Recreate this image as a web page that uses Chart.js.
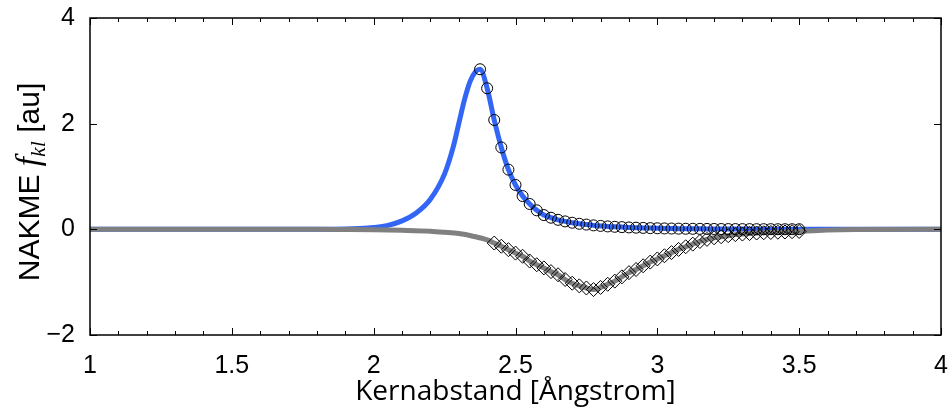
<!DOCTYPE html>
<html>
<head>
<meta charset="utf-8">
<script src="https://cdn.jsdelivr.net/npm/chart.js@4"></script>
<style>
  html, body { margin: 0; padding: 0; background: #fff; }
  #wrap { width: 949px; height: 409px; }
</style>
</head>
<body>
<div id="wrap"><canvas id="nakmeChart" width="949" height="409"></canvas></div>
<script>
// Abtastpunkte der Marker (Kreise und Rauten)
const sampleX = [2.375, 2.4, 2.425, 2.45, 2.475, 2.5, 2.525, 2.55, 2.575, 2.6,
  2.625, 2.65, 2.675, 2.7, 2.725, 2.75, 2.775, 2.8, 2.825, 2.85,
  2.875, 2.9, 2.925, 2.95, 2.975, 3.0, 3.025, 3.05, 3.075, 3.1,
  3.125, 3.15, 3.175, 3.2, 3.225, 3.25, 3.275, 3.3, 3.325, 3.35,
  3.375, 3.4, 3.425, 3.45, 3.475, 3.5];

// Kreise (liegen auf der blauen Kurve)
const circleY = [3.03, 2.67, 2.07, 1.55, 1.13, 0.84, 0.63, 0.48, 0.36, 0.27,
  0.22, 0.18, 0.15, 0.125, 0.105, 0.09, 0.075, 0.065, 0.055, 0.048,
  0.042, 0.036, 0.031, 0.027, 0.023, 0.02, 0.017, 0.015, 0.013, 0.011,
  0.01, 0.009, 0.008, 0.007, 0.006, 0.005, 0.005, 0.004, 0.004, 0.003,
  0.003, 0.003, 0.002, 0.002, 0.002, 0.002];

// Rauten (ab 2.425)
const diamondX = sampleX.slice(2);
const diamondY = [-0.26, -0.32, -0.385, -0.45, -0.51, -0.60, -0.67, -0.73, -0.80, -0.86,
  -0.95, -1.02, -1.07, -1.11, -1.14, -1.10, -1.04, -0.98, -0.90, -0.82,
  -0.76, -0.69, -0.62, -0.56, -0.50, -0.44, -0.38, -0.33, -0.28, -0.23,
  -0.19, -0.16, -0.14, -0.12, -0.10, -0.09, -0.08, -0.07, -0.065, -0.06,
  -0.055, -0.05, -0.045, -0.04];

// blaue Kurve: Anstieg vor dem Maximum und Auslauf
const blueRiseX = [1, 1.5, 1.8, 1.9, 1.95, 2.0, 2.05, 2.1, 2.15, 2.2, 2.25, 2.28, 2.3, 2.32, 2.34, 2.36];
const blueRiseY = [0, 0, 0, 0.005, 0.015, 0.035, 0.075, 0.16, 0.31, 0.57, 1.05, 1.55, 2.0, 2.45, 2.8, 2.99];
const blueTailX = [3.6, 4];
const blueTailY = [0, 0];

// graue Kurve
const grayPreX = [1, 1.5, 1.8, 1.9, 2.0, 2.1, 2.2, 2.25, 2.3, 2.35, 2.4];
const grayPreY = [0, 0, 0, -0.003, -0.008, -0.018, -0.035, -0.055, -0.08, -0.13, -0.2];
const grayTailX = [3.55, 3.6, 3.7, 4];
const grayTailY = [-0.025, -0.015, -0.005, 0];

const xTicks = [1, 1.5, 2, 2.5, 3, 3.5, 4];
const yTicks = [-2, 0, 2, 4];

function pts(xs, ys) {
  return xs.map((x, i) => ({ x: x, y: ys[i] }));
}

const blueLine = pts(blueRiseX, blueRiseY).concat(pts(sampleX, circleY), pts(blueTailX, blueTailY));
const grayLine = pts(grayPreX, grayPreY).concat(pts(diamondX, diamondY), pts(grayTailX, grayTailY));

const tickFont = { family: 'Liberation Sans, Arial, sans-serif', size: 25 };

// Rahmen, nach innen zeigende Striche und y-Achsentitel
const axesBox = {
  id: 'axesBox',
  afterDraw(chart) {
    const ctx = chart.ctx;
    const a = chart.chartArea;
    const xs = chart.scales.x, ys = chart.scales.y;
    ctx.save();
    ctx.strokeStyle = '#000';
    ctx.lineWidth = 1.5;
    ctx.strokeRect(a.left, a.top, a.right - a.left, a.bottom - a.top);
    ctx.lineWidth = 1;
    ctx.beginPath();
    for (let v = 10; v <= 40; v++) {
      const px = Math.round(xs.getPixelForValue(v / 10)) + 0.5;
      const len = (v % 5 === 0) ? 7 : 4;
      ctx.moveTo(px, a.bottom); ctx.lineTo(px, a.bottom - len);
      ctx.moveTo(px, a.top); ctx.lineTo(px, a.top + len);
    }
    yTicks.forEach(v => {
      const py = Math.round(ys.getPixelForValue(v)) + 0.5;
      ctx.moveTo(a.left, py); ctx.lineTo(a.left + 7, py);
      ctx.moveTo(a.right, py); ctx.lineTo(a.right - 7, py);
    });
    ctx.stroke();

    // y-Titel: NAKME f_kl [au]
    const parts = [
      { t: 'NAKME ', f: '30px "Liberation Sans", Arial, sans-serif', dy: 0 },
      { t: 'f', f: 'italic 33px "Liberation Serif", serif', dy: 0 },
      { t: 'kl', f: 'italic 22px "Liberation Serif", serif', dy: 6 },
      { t: ' [au]', f: '30px "Liberation Sans", Arial, sans-serif', dy: 0 }
    ];
    let total = 0;
    parts.forEach(p => { ctx.font = p.f; p.w = ctx.measureText(p.t).width; total += p.w; });
    ctx.translate(39, 182);
    ctx.rotate(-Math.PI / 2);
    ctx.fillStyle = '#000';
    ctx.textBaseline = 'alphabetic';
    let x0 = -total / 2;
    parts.forEach(p => {
      ctx.font = p.f;
      ctx.fillText(p.t, x0, p.dy);
      x0 += p.w;
    });
    ctx.restore();
  }
};

const ctx = document.getElementById('nakmeChart').getContext('2d');
new Chart(ctx, {
  type: 'scatter',
  data: {
    datasets: [
      {
        label: 'Rauten',
        data: pts(diamondX, diamondY),
        showLine: false,
        pointStyle: 'rectRot',
        pointRadius: 7,
        pointBorderColor: '#000',
        pointBackgroundColor: 'rgba(0,0,0,0)',
        pointBorderWidth: 1,
        order: 0
      },
      {
        label: 'Kreise',
        data: pts(sampleX, circleY),
        showLine: false,
        pointStyle: 'circle',
        pointRadius: 5.5,
        pointBorderColor: '#000',
        pointBackgroundColor: 'rgba(0,0,0,0)',
        pointBorderWidth: 1,
        order: 1
      },
      {
        label: 'grau',
        data: grayLine,
        showLine: true,
        borderColor: '#808080',
        borderWidth: 5,
        pointRadius: 0,
        cubicInterpolationMode: 'monotone',
        order: 2
      },
      {
        label: 'blau',
        data: blueLine,
        showLine: true,
        borderColor: '#3366f5',
        borderWidth: 5,
        pointRadius: 0,
        cubicInterpolationMode: 'monotone',
        order: 3
      }
    ]
  },
  options: {
    responsive: false,
    animation: false,
    layout: { padding: { left: 0, right: 7, top: 18, bottom: 0 } },
    plugins: {
      legend: { display: false },
      tooltip: { enabled: false }
    },
    scales: {
      x: {
        type: 'linear',
        min: 1,
        max: 4,
        afterBuildTicks: s => { s.ticks = xTicks.map(v => ({ value: v })); },
        afterFit: s => { s.height = 74; s.paddingLeft = 0; s.paddingRight = 0; },
        ticks: {
          color: '#000', font: tickFont, padding: 8, maxRotation: 0, autoSkip: false,
          callback: v => String(v)
        },
        grid: { display: false },
        border: { display: false },
        title: {
          display: true,
          text: 'Kernabstand [Ångstrom]',
          color: '#000',
          font: { family: 'Open Sans, sans-serif', size: 28 },
          padding: { top: 0, bottom: 0 }
        }
      },
      y: {
        type: 'linear',
        min: -2,
        max: 4,
        afterBuildTicks: s => { s.ticks = yTicks.map(v => ({ value: v })); },
        afterFit: s => { s.width = 90; s.paddingTop = 0; s.paddingBottom = 0; },
        ticks: {
          color: '#000',
          font: tickFont,
          padding: 7,
          callback: v => (v < 0 ? '\u2212' + Math.abs(v) : String(v))
        },
        grid: { display: false },
        border: { display: false }
      }
    }
  },
  plugins: [axesBox]
});
</script>
</body>
</html>
